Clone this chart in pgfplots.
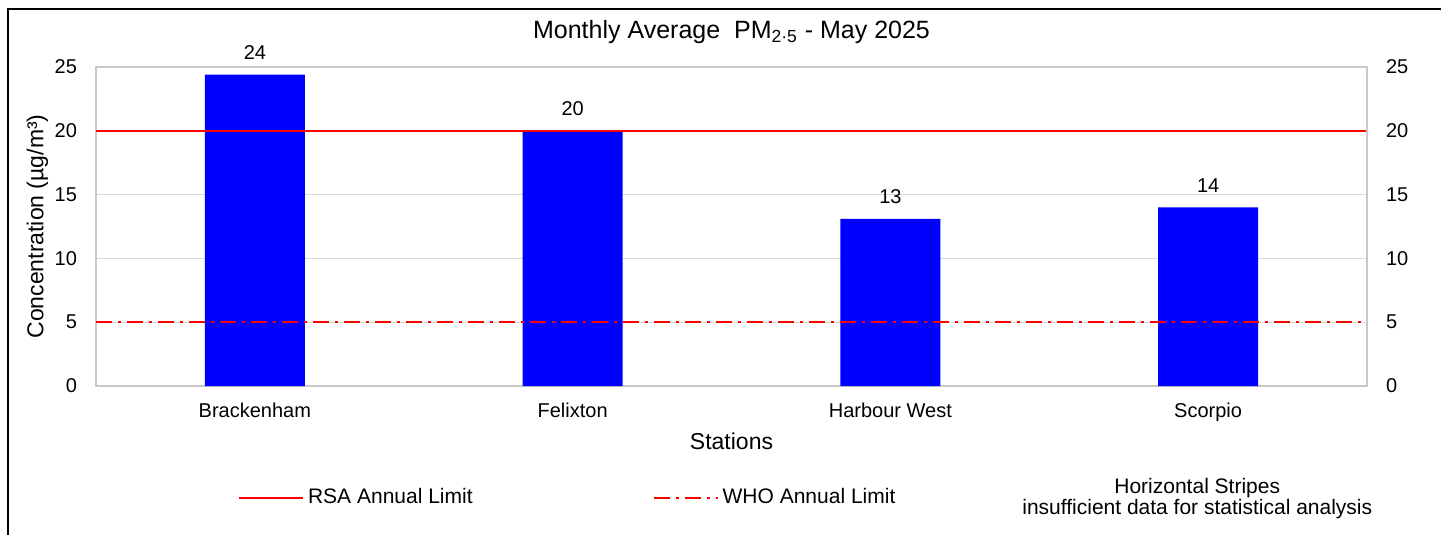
\documentclass[border=0pt]{standalone}
\usepackage{fontspec}
\setmainfont{Liberation Sans}
\usepackage{pgfplots}
\pgfplotsset{compat=1.18}
\definecolor{axgray}{RGB}{200,200,200}
\definecolor{gridgray}{RGB}{217,217,217}
\definecolor{barblue}{RGB}{0,0,255}
\definecolor{limred}{RGB}{255,0,0}
\begin{document}
\begin{tikzpicture}
\useasboundingbox (0pt,0pt) rectangle (720.5pt,-267.5pt);
\draw[black, line width=0.8pt] (4pt,-272pt) -- (4pt,-4.5pt) -- (730pt,-4.5pt);
\begin{axis}[
  at={(48pt,-193pt)}, anchor=south west,
  scale only axis, width=635.5pt, height=159.5pt,
  xmin=-0.5, xmax=3.5, ymin=0, ymax=25,
  xtick={0,1,2,3},
  xticklabels={Brackenham,Felixton,Harbour West,Scorpio},
  ytick={0,5,10,15,20,25},
  major tick length=0pt,
  axis line style={axgray, line width=0.8pt},
  ymajorgrids, grid style={gridgray, line width=0.6pt},
  /pgf/number format/assume math mode=true,
  tick label style={font=\fontsize{10}{12}\selectfont},
  yticklabel style={xshift=-6pt},
  xticklabel style={yshift=-5pt},
  xlabel={Stations}, ylabel={Concentration (µg/m³)},
  label style={font=\fontsize{11.5}{13}\selectfont},
  xlabel style={at={(axis description cs:0.5,0)}, anchor=center, yshift=-27.5pt},
  ylabel style={at={(axis description cs:-0.046,0.5)}, anchor=center},
  title={Monthly Average~~PM\textsubscript{2·5} - May 2025},
  title style={at={(0.5,1)}, anchor=center, yshift=11.5pt, font=\fontsize{12.5}{14}\selectfont},
  legend image code/.code={\draw[#1] (0pt,0pt) -- (32pt,0pt);},
  legend columns=3,
  legend style={at={(0.5595,-0.35)}, anchor=center, draw=none, fill=none,
    font=\fontsize{10.5}{12}\selectfont,
    /tikz/column 2/.style={column sep=88pt},
    /tikz/column 4/.style={column sep=59.5pt}},
  clip=false,
]
\addplot[ybar, bar width=50pt, fill=barblue, draw=none, forget plot,
  nodes near coords={\pgfmathprintnumber[fixed,precision=0]{\pgfplotspointmeta}},
  every node near coord/.append style={font=\fontsize{10}{12}\selectfont, yshift=4pt}]
  coordinates {(0,24.4) (1,20) (2,13.1) (3,14)};
\addplot[limred, line width=1pt] coordinates {(-0.5,20) (3.5,20)};
\addlegendentry{RSA Annual Limit}
\addplot[limred, line width=1pt, dash pattern=on 8pt off 3pt on 1.5pt off 3pt] coordinates {(-0.5,5) (3.5,5)};
\addlegendentry{WHO Annual Limit}
\addlegendimage{empty legend}
\addlegendentry{\fontsize{10.5}{10}\selectfont\begin{tabular}[b]{@{}c@{}}Horizontal Stripes\\insufficient data for statistical analysis\end{tabular}}
\end{axis}
\begin{axis}[
  at={(48pt,-193pt)}, anchor=south west,
  scale only axis, width=635.5pt, height=159.5pt,
  xmin=-0.5, xmax=3.5, ymin=0, ymax=25,
  axis x line=none, axis y line*=right,
  ytick={0,5,10,15,20,25},
  major tick length=0pt,
  axis line style={axgray, line width=0.8pt},
  /pgf/number format/assume math mode=true,
  tick label style={font=\fontsize{10}{12}\selectfont},
  yticklabel style={xshift=6pt},
]
\addplot[draw=none, forget plot] coordinates {(0,0) (3,25)};
\end{axis}
\end{tikzpicture}
\end{document}
